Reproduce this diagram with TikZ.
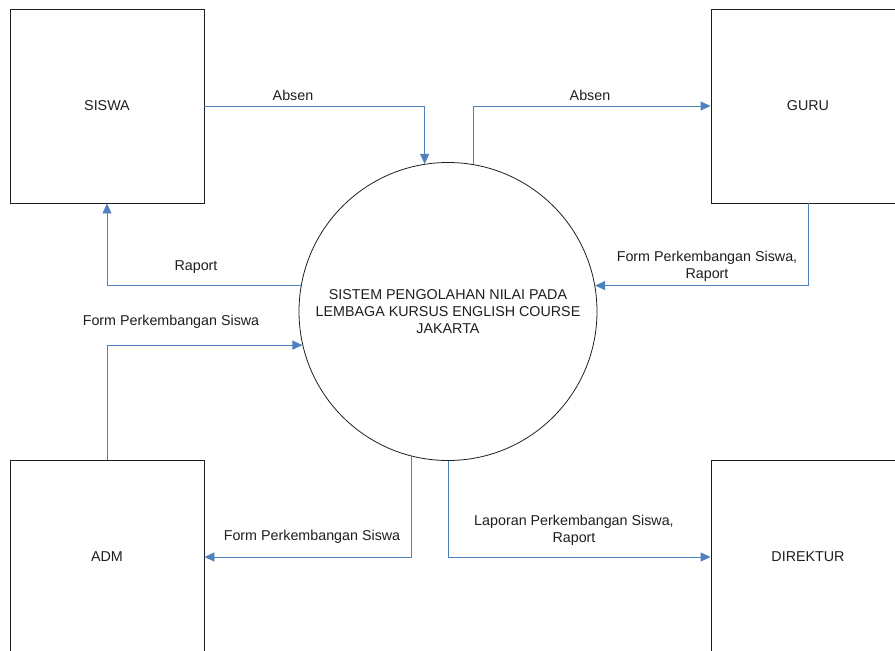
\documentclass[tikz,border=0pt]{standalone}
\usepackage{fontspec}
\setmainfont{Liberation Sans}
\usetikzlibrary{arrows.meta}
\definecolor{flowblue}{RGB}{79,129,189}
\definecolor{inkgray}{RGB}{30,30,30}
\begin{document}
\begin{tikzpicture}[x=1pt,y=-1pt,
  font=\fontsize{14.3}{17}\selectfont,
  entity/.style={draw=inkgray,line width=0.9pt,minimum width=194pt,minimum height=194pt,inner sep=0pt,text=inkgray},
  proc/.style={draw=inkgray,line width=0.8pt,circle,minimum size=298pt,inner sep=0pt,align=center,text=inkgray},
  flow/.style={draw=flowblue,line width=0.9pt,-{Triangle[length=10pt,width=9pt]}},
  lbl/.style={inner sep=0pt,align=center,text=inkgray}]
\path[use as bounding box] (0,0) rectangle (895,651);
\clip (0,0) rectangle (895,651);
\node[entity] (siswa) at (107,106) {SISWA};
\node[entity] (guru) at (808,106) {GURU};
\node[entity] (adm) at (107,557) {ADM};
\node[entity] (direktur) at (808,557) {DIREKTUR};
\node[proc] (sys) at (448,311.5) {SISTEM PENGOLAHAN NILAI PADA\\LEMBAGA KURSUS ENGLISH COURSE\\JAKARTA};
\draw[flow] (siswa.east) -| (sys.99.7);
\draw[flow] (sys.80.3) |- (guru.west);
\draw[flow] (guru.south) |- (sys.10.6);
\draw[flow] (sys.170.4) -| (siswa.south);
\draw[flow] (adm.north) |- (sys.193);
\draw[flow] (sys.256.3) |- (adm.east);
\draw[flow] (sys.270.4) |- (direktur.west);
\node[lbl] (l1) at (293,95) {Absen};
\node[lbl] (l2) at (590,95) {Absen};
\node[lbl] (l3) at (707,266.5) {Form Perkembangan Siswa,\\Raport};
\node[lbl] (l4) at (196,267) {Raport};
\node[lbl] (l5) at (171,322) {Form Perkembangan Siswa};
\node[lbl] (l6) at (312,537) {Form Perkembangan Siswa};
\node[lbl] (l7) at (574,530.5) {Laporan Perkembangan Siswa,\\Raport};
\end{tikzpicture}
\end{document}
